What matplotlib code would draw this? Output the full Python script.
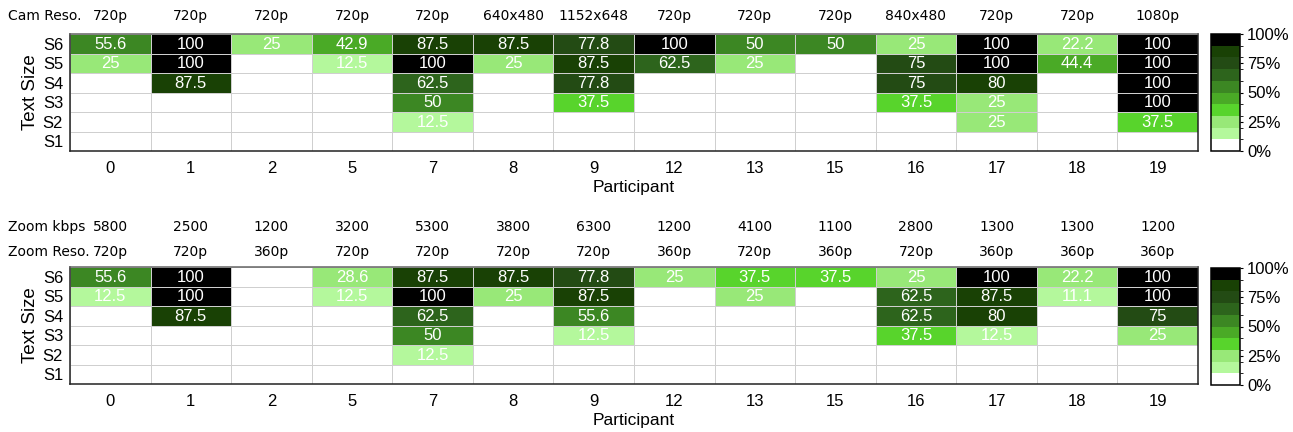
import numpy as np
import matplotlib
matplotlib.use("Agg")
import matplotlib.pyplot as plt
from matplotlib.colors import ListedColormap, BoundaryNorm

plt.rcParams['font.family'] = ['Liberation Sans', 'DejaVu Sans']

participants = ['0', '1', '2', '5', '7', '8', '9', '12', '13', '15', '16', '17', '18', '19']
sizes = ['S6', 'S5', 'S4', 'S3', 'S2', 'S1']

cam_reso = ['720p', '720p', '720p', '720p', '720p', '640x480', '1152x648',
            '720p', '720p', '720p', '840x480', '720p', '720p', '1080p']
zoom_kbps = ['5800', '2500', '1200', '3200', '5300', '3800', '6300',
             '1200', '4100', '1100', '2800', '1300', '1300', '1200']
zoom_reso = ['720p', '720p', '360p', '720p', '720p', '720p', '720p',
             '360p', '720p', '360p', '720p', '360p', '360p', '360p']

n = np.nan
# rows S6..S1, columns = participants
cam_vals = [
    [55.6, 100, 25, 42.9, 87.5, 87.5, 77.8, 100, 50, 50, 25, 100, 22.2, 100],
    [25, 100, n, 12.5, 100, 25, 87.5, 62.5, 25, n, 75, 100, 44.4, 100],
    [n, 87.5, n, n, 62.5, n, 77.8, n, n, n, 75, 80, n, 100],
    [n, n, n, n, 50, n, 37.5, n, n, n, 37.5, 25, n, 100],
    [n, n, n, n, 12.5, n, n, n, n, n, n, 25, n, 37.5],
    [n, n, n, n, n, n, n, n, n, n, n, n, n, n],
]
zoom_vals = [
    [55.6, 100, n, 28.6, 87.5, 87.5, 77.8, 25, 37.5, 37.5, 25, 100, 22.2, 100],
    [12.5, 100, n, 12.5, 100, 25, 87.5, n, 25, n, 62.5, 87.5, 11.1, 100],
    [n, 87.5, n, n, 62.5, n, 55.6, n, n, n, 62.5, 80, n, 75],
    [n, n, n, n, 50, n, 12.5, n, n, n, 37.5, 12.5, n, 25],
    [n, n, n, n, 12.5, n, n, n, n, n, n, n, n, n],
    [n, n, n, n, n, n, n, n, n, n, n, n, n, n],
]

colors = ['#ffffff', '#b4f89c', '#98e878', '#58d42c', '#4aaa26',
          '#3c8723', '#2d641c', '#234b14', '#194105', '#000000']
cmap = ListedColormap(colors)
cmap.set_bad('white')
cmap.set_over('black')
norm = BoundaryNorm(np.linspace(0, 100, 11), cmap.N)

W, H = 1293, 432
fig = plt.figure(figsize=(W / 100, H / 100), dpi=100)


def draw(ax_box, cb_box, vals, label_rows):
    ax = fig.add_axes(ax_box)
    data = np.ma.masked_invalid(np.array(vals, dtype=float))
    nr, nc = data.shape
    mesh = ax.pcolormesh(np.arange(nc + 1), np.arange(nr + 1), data, cmap=cmap, norm=norm,
                         edgecolors='#cfcfcf', linewidth=0.5)
    ax.set_xlim(0, nc)
    ax.set_ylim(nr, 0)
    for i in range(nr):
        for j in range(nc):
            v = vals[i][j]
            if not np.isnan(v):
                ax.text(j + 0.5, i + 0.52, f'{v:g}', ha='center', va='center',
                        color='white', fontsize=12)
    ax.set_xticks(np.arange(nc) + 0.5)
    ax.set_xticklabels(participants, fontsize=12)
    ax.set_yticks(np.arange(nr) + 0.5)
    ax.set_yticklabels(sizes, fontsize=12)
    ax.tick_params(axis='x', length=0, pad=7)
    ax.tick_params(axis='y', length=0, pad=5)
    ax.set_xlabel('Participant', fontsize=12.5, labelpad=3)
    ax.set_ylabel('Text Size', fontsize=13.5, labelpad=3)
    for s in ['left', 'bottom', 'right']:
        ax.spines[s].set_color('#222222')
        ax.spines[s].set_linewidth(1.1)
    ax.spines['top'].set_color('#666666')
    ax.spines['top'].set_linewidth(1.1)

    for name, labels, ypix in label_rows:
        fig.text(8 / W, 1 - ypix / H, name, fontsize=10, family='DejaVu Sans',
                 ha='left', va='center')
        for j, lab in enumerate(labels):
            x = ax_box[0] + ax_box[2] * (j + 0.5) / nc
            fig.text(x, 1 - ypix / H, lab, fontsize=10, family='DejaVu Sans',
                     ha='center', va='center')

    cax = fig.add_axes(cb_box)
    cb = fig.colorbar(mesh, cax=cax, ticks=[0, 25, 50, 75, 100])
    cb.ax.set_yticklabels(['0%', '25%', '50%', '75%', '100%'], fontsize=12)
    cb.ax.tick_params(length=2, width=0.8, pad=3)
    cb.outline.set_linewidth(1.1)
    return ax


draw([70 / W, 1 - 151 / H, 1128 / W, 117 / H],
     [1211 / W, 1 - 151 / H, 29 / W, 117 / H],
     cam_vals, [('Cam Reso.', cam_reso, 16)])
draw([70 / W, 1 - 384 / H, 1128 / W, 117 / H],
     [1211 / W, 1 - 385 / H, 29 / W, 117 / H],
     zoom_vals, [('Zoom kbps', zoom_kbps, 227), ('Zoom Reso.', zoom_reso, 252)])

fig.savefig('out.png', dpi=100)
